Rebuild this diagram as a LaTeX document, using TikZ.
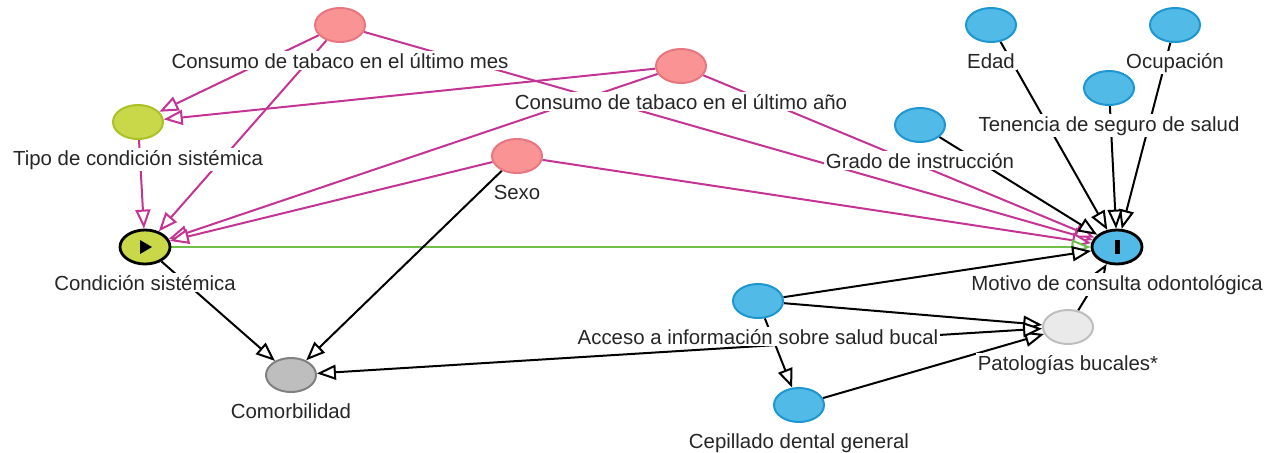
\documentclass[tikz,border=0pt]{standalone}
\usepackage{fontspec}
\setmainfont{Liberation Sans}
\usetikzlibrary{shapes.geometric,arrows.meta}
\pgfdeclarelayer{background}
\pgfsetlayers{background,main}

\definecolor{dagpink}{RGB}{250,148,148}
\definecolor{dagpinkline}{RGB}{232,118,128}
\definecolor{dagblue}{RGB}{82,186,230}
\definecolor{dagblueline}{RGB}{30,150,210}
\definecolor{dagolive}{RGB}{200,216,72}
\definecolor{dagoliveline}{RGB}{172,192,40}
\definecolor{daggray}{RGB}{190,190,190}
\definecolor{daggrayline}{RGB}{128,128,128}
\definecolor{daglight}{RGB}{234,234,234}
\definecolor{daglightline}{RGB}{190,190,190}
\definecolor{dagmag}{RGB}{196,52,148}
\definecolor{daggreen}{RGB}{110,190,72}

\tikzset{
  opentri/.tip={Triangle[length=9.5pt,width=7.5pt,fill=white]},
  var/.style={ellipse,minimum width=25pt,minimum height=17pt,inner sep=0pt,line width=1pt},
  conf/.style={var,fill=dagpink,draw=dagpinkline},
  anc/.style={var,fill=dagblue,draw=dagblueline},
  expanc/.style={var,fill=dagolive,draw=dagoliveline},
  expo/.style={var,fill=dagolive,draw=black,line width=1.4pt},
  outc/.style={var,fill=dagblue,draw=black,line width=1.4pt},
  adj/.style={var,fill=daggray,draw=daggrayline},
  other/.style={var,fill=daglight,draw=daglightline},
  lbl/.style={fill=white,inner sep=1pt,anchor=base,text=black!85,
    font=\fontsize{10.2}{12}\selectfont},
  edge/.style={line width=1pt,-opentri},
  bias/.style={edge,draw=dagmag},
  causal/.style={edge,draw=daggreen}
}

\begin{document}
\begin{tikzpicture}[x=.5pt,y=-.5pt]
  \useasboundingbox (0,0) rectangle (1264,452);
  % variables
  \node[conf] (cm) at (340,25) {};
  \node[conf] (ca) at (681,66) {};
  \node[conf] (sx) at (517,156) {};
  \node[expanc] (tc) at (138,122) {};
  \node[expo] (cs) at (145,247) {};
  \node[adj] (co) at (291,375) {};
  \node[anc] (ed) at (991,25) {};
  \node[anc] (oc) at (1175,25) {};
  \node[anc] (ts) at (1109,88) {};
  \node[anc] (gi) at (920,125) {};
  \node[outc] (mc) at (1117,247) {};
  \node[anc] (ai) at (758,301) {};
  \node[other] (pb) at (1068,327) {};
  \node[anc] (cd) at (799,405) {};
  % exposure / outcome marks
  \fill ([shift={(-5,-7)}]cs.center) -- ++(12,7) -- ++(-12,7) -- cycle;
  \fill ([shift={(-2,-7)}]mc.center) rectangle ++(4.5,14);
  % labels
  \node[lbl] (cm-l) at ([yshift=-21.5pt]cm.center) {Consumo de tabaco en el último mes};
  \node[lbl] (ca-l) at ([yshift=-21.5pt]ca.center) {Consumo de tabaco en el último año};
  \node[lbl] (sx-l) at ([yshift=-21.5pt]sx.center) {Sexo};
  \node[lbl] (tc-l) at ([yshift=-21.5pt]tc.center) {Tipo de condición sistémica};
  \node[lbl] (cs-l) at ([yshift=-21.5pt]cs.center) {Condición sistémica};
  \node[lbl] (co-l) at ([yshift=-21.5pt]co.center) {Comorbilidad};
  \node[lbl] (ed-l) at ([yshift=-21.5pt]ed.center) {Edad};
  \node[lbl] (oc-l) at ([yshift=-21.5pt]oc.center) {Ocupación};
  \node[lbl] (ts-l) at ([yshift=-21.5pt]ts.center) {Tenencia de seguro de salud};
  \node[lbl] (gi-l) at ([yshift=-21.5pt]gi.center) {Grado de instrucción};
  \node[lbl] (mc-l) at ([yshift=-21.5pt]mc.center) {Motivo de consulta odontológica};
  \node[lbl] (ai-l) at ([yshift=-21.5pt]ai.center) {Acceso a información sobre salud bucal};
  \node[lbl] (pb-l) at ([yshift=-21.5pt]pb.center) {Patologías bucales*};
  \node[lbl] (cd-l) at ([yshift=-21.5pt]cd.center) {Cepillado dental general};
  % arrows
  \begin{pgfonlayer}{background}
    \foreach \a/\b in {cm/tc,cm/cs,cm/mc,ca/tc,ca/cs,ca/mc,sx/cs,sx/mc,tc/cs}
      \draw[bias] (\a) -- (\b);
    \draw[causal] (cs) -- (mc);
    \foreach \a/\b in {cs/co,sx/co,ed/mc,oc/mc,ts/mc,gi/mc,ai/mc,ai/pb,ai/cd,cd/pb,pb/mc}
      \draw[edge] (\a) -- (\b);
    \draw[edge,opentri-opentri] (pb) -- (co);
  \end{pgfonlayer}
\end{tikzpicture}
\end{document}
